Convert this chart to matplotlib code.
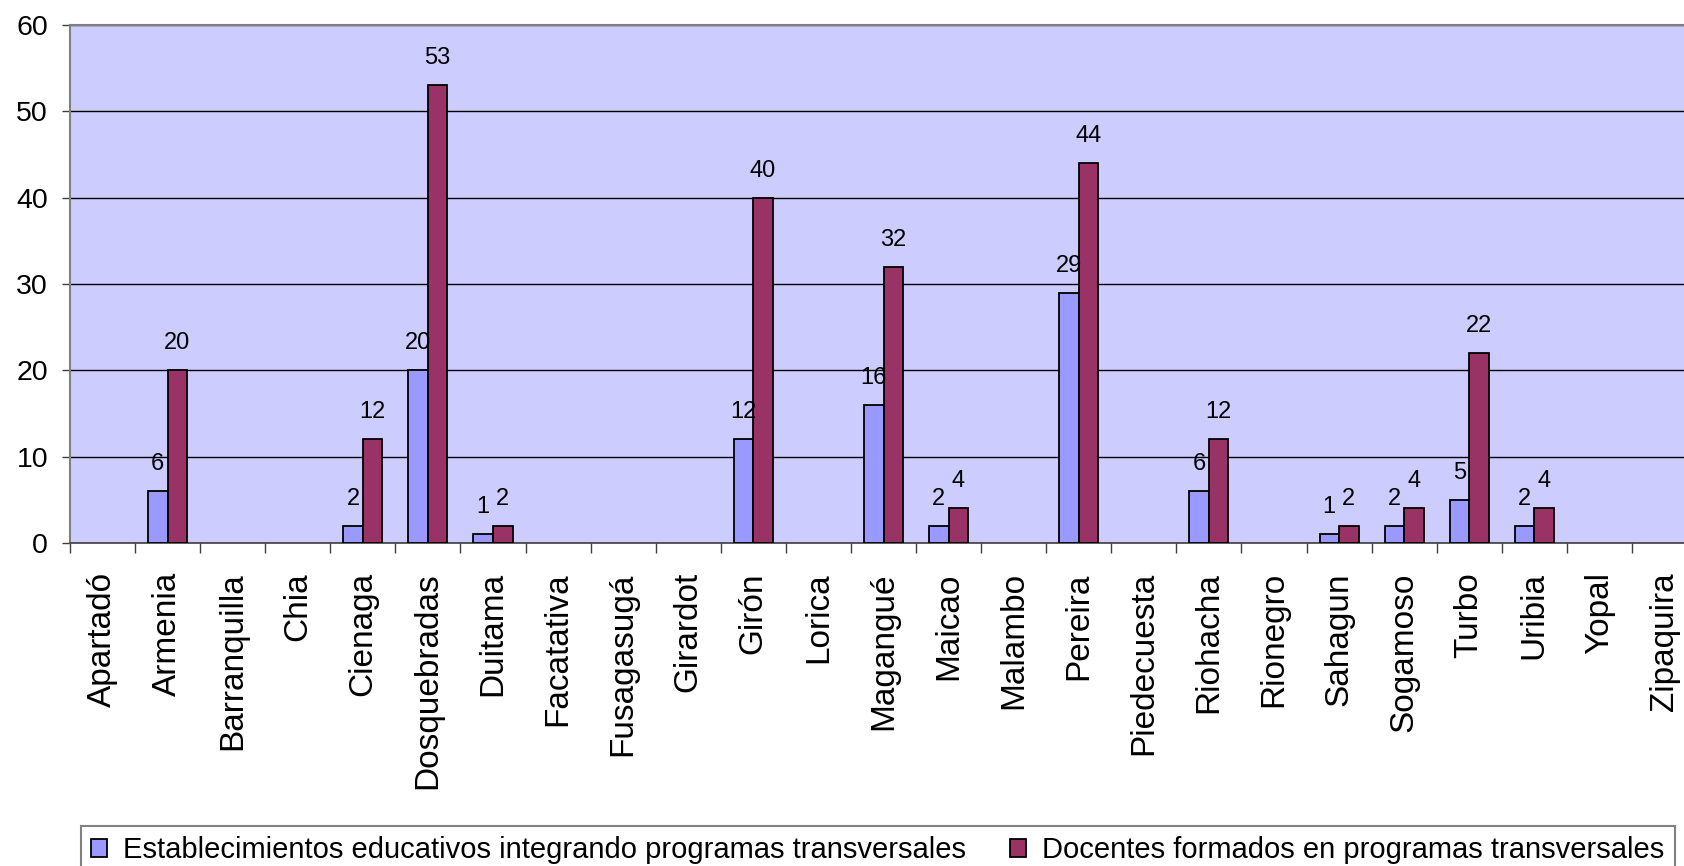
import numpy as np
import matplotlib
matplotlib.use("Agg")
import matplotlib.pyplot as plt

plt.rcParams['font.family'] = ['Liberation Sans', 'DejaVu Sans']

categories = ["Apartadó", "Armenia", "Barranquilla", "Chia", "Cienaga", "Dosquebradas",
              "Duitama", "Facatativa", "Fusagasugá", "Girardot", "Girón", "Lorica",
              "Magangué", "Maicao", "Malambo", "Pereira", "Piedecuesta", "Riohacha",
              "Rionegro", "Sahagun", "Sogamoso", "Turbo", "Uribia", "Yopal", "Zipaquira"]
establecimientos = [None, 6, None, None, 2, 20, 1, None, None, None, 12, None,
                    16, 2, None, 29, None, 6, None, 1, 2, 5, 2, None, None]
docentes = [None, 20, None, None, 12, 53, 2, None, None, None, 40, None,
            32, 4, None, 44, None, 12, None, 2, 4, 22, 4, None, None]
series_names = ["Establecimientos educativos integrando programas transversales",
                "Docentes formados en programas transversales"]
yticks = [0, 10, 20, 30, 40, 50, 60]

W, H = 1684, 866
fig = plt.figure(figsize=(W / 100, H / 100), dpi=100)
ax = fig.add_axes([70 / W, 1 - 543 / H, 1627 / W, 518 / H])
ax.set_facecolor('#CCCCFF')

x = np.arange(len(categories))
s1 = np.array([np.nan if v is None else v for v in establecimientos], dtype=float)
s2 = np.array([np.nan if v is None else v for v in docentes], dtype=float)
bw = 0.3

ax.set_axisbelow(True)
ax.yaxis.grid(True, color='black', linewidth=1.0)
b1 = ax.bar(x - bw / 2, s1, width=bw, color='#9999FF', edgecolor='black', linewidth=1.3,
            label=series_names[0], zorder=3)
b2 = ax.bar(x + bw / 2, s2, width=bw, color='#993366', edgecolor='black', linewidth=1.3,
            label=series_names[1], zorder=3)

for xs, vals in ((x - bw / 2, s1), (x + bw / 2, s2)):
    for xi, v in zip(xs, vals):
        if not np.isnan(v):
            ax.annotate(f"{int(v)}", (xi, v), xytext=(0, 19.5), textcoords='offset points',
                        ha='center', va='center', fontsize=17, zorder=4)

ax.set_xlim(-0.5, len(categories) - 0.5)
ax.set_ylim(0, 60)
ax.set_yticks(yticks)
ax.tick_params(axis='y', labelsize=20.5, length=5.8, width=1, pad=10, color='#404040')

ax.set_xticks(x)
ax.set_xticklabels(categories, rotation=90, fontsize=24, va='top', ha='center')
ax.tick_params(axis='x', which='major', length=0, pad=21)
ax.set_xticks(np.arange(-0.5, len(categories), 1), minor=True)
ax.tick_params(axis='x', which='minor', length=7.2, width=1, color='#404040')

ax.spines['right'].set_visible(False)
ax.spines['top'].set_color('#808080')
ax.spines['top'].set_linewidth(1.5)
ax.spines['left'].set_color('#808080')
ax.spines['left'].set_linewidth(1.5)
ax.spines['bottom'].set_color('#404040')
ax.spines['bottom'].set_linewidth(1.2)

leg = fig.legend(handles=[b1, b2], labels=series_names, loc='upper left',
                 bbox_to_anchor=(81 / W, 1 - 826 / H), ncol=2, fontsize=21,
                 frameon=True, fancybox=False, edgecolor='#808080', framealpha=1,
                 handlelength=0.55, handleheight=0.55, handletextpad=0.55,
                 columnspacing=1.5, borderpad=0.35, borderaxespad=0)
leg.get_frame().set_linewidth(1.5)

fig.savefig("out.png", dpi=100)
